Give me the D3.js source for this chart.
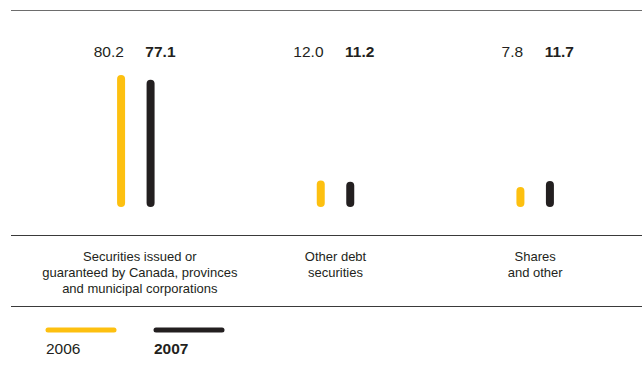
<!DOCTYPE html>
<html>
<head>
<meta charset="utf-8">
<script src="https://cdn.jsdelivr.net/npm/d3@7"></script>
<style>
  html, body { margin: 0; padding: 0; background: #fff; }
  svg { display: block; font-family: "Liberation Sans", Arial, Helvetica, sans-serif; }
</style>
</head>
<body>
<svg id="chart" width="642" height="368"></svg>
<script>
// Category labels (one entry per line)
const categories = [
  ["Securities issued or", "guaranteed by Canada, provinces", "and municipal corporations"],
  ["Other debt", "securities"],
  ["Shares", "and other"]
];
const years = ["2006", "2007"];
const values2006 = [80.2, 12.0, 7.8];
const values2007 = [77.1, 11.2, 11.7];
const yearColors = ["#fdc010", "#231f20"];

const svg = d3.select("#chart");
const W = 642;

const catKeys = categories.map((c, i) => i);
const x = d3.scaleBand().domain(catKeys).range([36, 635]).padding(0);
const xSub = d3.scalePoint().domain(years).range([-14.75, 14.75]);
const y = d3.scaleLinear().domain([0, 100]).range([203, 48.4]);
const cx = i => x(i) + x.bandwidth() / 2;

const series = [values2006, values2007];

// Horizontal rules
const rules = [
  { y: 10.5, color: "#6d6d6d" },
  { y: 235.5, color: "#3a3a3a" },
  { y: 306.5, color: "#3a3a3a" }
];
svg.selectAll("line.rule").data(rules).join("line")
  .attr("class", "rule")
  .attr("x1", 11).attr("x2", W)
  .attr("y1", d => d.y).attr("y2", d => d.y)
  .attr("stroke", d => d.color).attr("stroke-width", 1);

// Bars drawn as thick rounded strokes
years.forEach((yr, s) => {
  svg.selectAll("line.bar" + yr).data(series[s]).join("line")
    .attr("class", "bar" + yr)
    .attr("x1", (d, i) => cx(i) + xSub(yr))
    .attr("x2", (d, i) => cx(i) + xSub(yr))
    .attr("y1", y(0))
    .attr("y2", d => y(d))
    .attr("stroke", yearColors[s])
    .attr("stroke-width", 8)
    .attr("stroke-linecap", "round");
});

// Value labels
svg.selectAll("text.v2006").data(values2006).join("text")
  .attr("class", "v2006")
  .attr("x", (d, i) => cx(i) - 12)
  .attr("y", 57)
  .attr("text-anchor", "end")
  .attr("font-size", 15.5)
  .attr("fill", "#231f20")
  .text(d => d.toFixed(1));
svg.selectAll("text.v2007").data(values2007).join("text")
  .attr("class", "v2007")
  .attr("x", (d, i) => cx(i) + 9.5)
  .attr("y", 57)
  .attr("text-anchor", "start")
  .attr("font-size", 15.5)
  .attr("font-weight", "bold")
  .attr("fill", "#231f20")
  .text(d => d.toFixed(1));

// Category labels
categories.forEach((lines, i) => {
  const t = svg.append("text")
    .attr("text-anchor", "middle")
    .attr("font-size", 13)
    .attr("fill", "#231f20");
  lines.forEach((ln, j) => {
    t.append("tspan").attr("x", cx(i) + (i === 0 ? 4 : 0)).attr("y", 261 + j * 16).text(ln);
  });
});

// Legend
const legendX = [46, 154];
years.forEach((yr, s) => {
  svg.append("line")
    .attr("x1", legendX[s] + 2).attr("x2", legendX[s] + 68)
    .attr("y1", 330).attr("y2", 330)
    .attr("stroke", yearColors[s]).attr("stroke-width", 5)
    .attr("stroke-linecap", "round");
  svg.append("text")
    .attr("x", legendX[s]).attr("y", 354)
    .attr("font-size", 15.5)
    .attr("font-weight", s === 1 ? "bold" : "normal")
    .attr("fill", "#231f20")
    .text(yr);
});
</script>
</body>
</html>
